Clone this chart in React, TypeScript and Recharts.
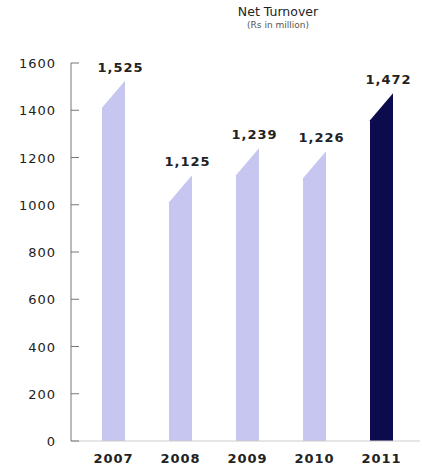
import React from 'react';
import { BarChart, Bar, XAxis, YAxis, Cell, LabelList } from 'recharts';

const years = ['2007', '2008', '2009', '2010', '2011'];
const turnover = [1525, 1125, 1239, 1226, 1472];
const yTicks = [0, 200, 400, 600, 800, 1000, 1200, 1400, 1600];

const LIGHT = '#c6c6f0';
const DARK = '#0c0b4d';
const FONT = '"DejaVu Sans", Verdana, sans-serif';

const data = years.map((year, i) => ({ year, value: turnover[i] }));

// bar with the top-left corner cut off on a slant
function SlantBar(props: any) {
  const { x, y, width, height, fill } = props;
  const cut = Math.min(27, height);
  const d = `M${x},${y + height} L${x},${y + cut} L${x + width},${y} L${x + width},${y + height} Z`;
  return <path d={d} fill={fill} />;
}

function YTick(props: any) {
  const { x, y, payload } = props;
  return (
    <g>
      <line x1={x} y1={y} x2={x + 8} y2={y} stroke="#777" strokeWidth={1} />
      <text
        x={x - 15}
        y={y}
        dy={5}
        textAnchor="end"
        fontFamily={FONT}
        fontSize={13}
        letterSpacing={1}
        fill="#222"
      >
        {payload.value}
      </text>
    </g>
  );
}

function XTick(props: any) {
  const { x, y, payload } = props;
  return (
    <text
      x={x}
      y={y}
      dy={14}
      textAnchor="middle"
      fontFamily={FONT}
      fontSize={13}
      fontWeight="bold"
      letterSpacing={1}
      fill="#222"
    >
      {payload.value}
    </text>
  );
}

function ValueLabel(props: any) {
  const { x, y, width, value } = props;
  return (
    <text
      x={x + width / 2 + 7}
      y={y - 9}
      textAnchor="middle"
      fontFamily={FONT}
      fontSize={13}
      fontWeight="bold"
      letterSpacing={1}
      fill="#222"
    >
      {value.toLocaleString('en-US')}
    </text>
  );
}

export default function App() {
  return (
    <div style={{ position: 'absolute', left: 0, top: 0, width: 422, height: 469, background: '#fff' }}>
      <div
        style={{
          position: 'absolute',
          left: 228,
          width: 100,
          top: 6,
          textAlign: 'center',
          fontFamily: FONT,
          color: '#222',
          lineHeight: 1,
        }}
      >
        <div style={{ fontSize: 12.5 }}>Net Turnover</div>
        <div style={{ fontSize: 9, color: '#555', marginTop: 2 }}>(Rs in million)</div>
      </div>
      <BarChart
        width={422}
        height={469}
        data={data}
        margin={{ top: 63, right: 2, bottom: 0, left: 0 }}
        barSize={23}
      >
        <XAxis
          dataKey="year"
          height={28}
          axisLine={{ stroke: '#ccc' }}
          tickLine={false}
          tick={<XTick />}
          padding={{ left: 9, right: 5 }}
          interval={0}
        />
        <YAxis
          width={71}
          domain={[0, 1600]}
          ticks={yTicks}
          axisLine={{ stroke: '#777' }}
          tickLine={false}
          tickSize={0}
          tickMargin={0}
          tick={<YTick />}
          interval={0}
        />
        <Bar dataKey="value" shape={<SlantBar />} isAnimationActive={false}>
          {data.map((d, i) => (
            <Cell key={d.year} fill={i === data.length - 1 ? DARK : LIGHT} />
          ))}
          <LabelList dataKey="value" content={<ValueLabel />} />
        </Bar>
      </BarChart>
    </div>
  );
}
